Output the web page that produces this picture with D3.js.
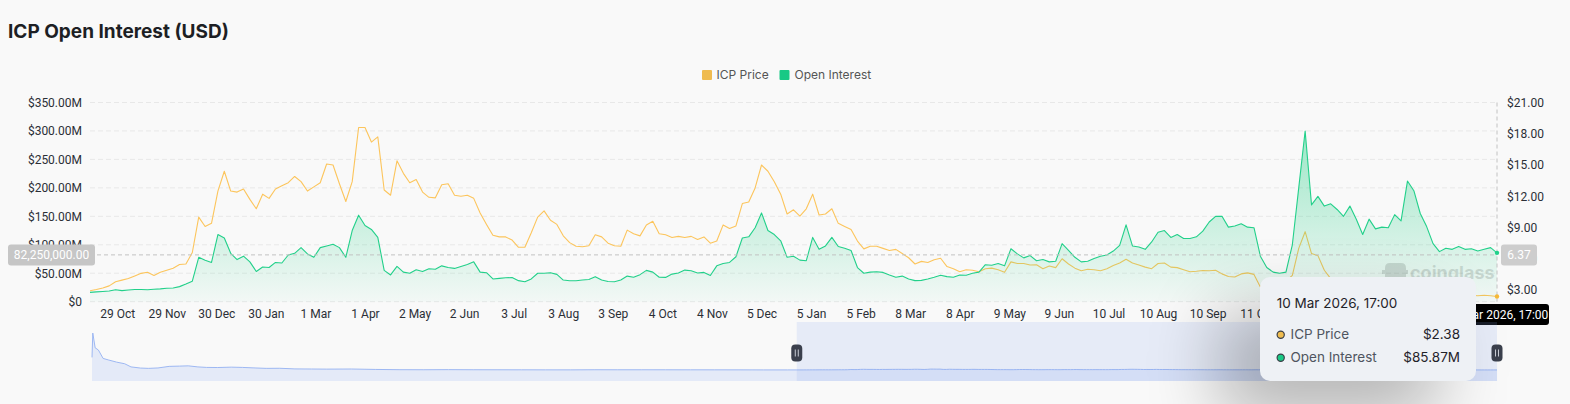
<!DOCTYPE html>
<html>
<head>
<meta charset="utf-8">
<script src="https://cdn.jsdelivr.net/npm/d3@7"></script>
<style>
  body { margin: 0; background: #f9f9f9; font-family: Inter, "Noto Sans", sans-serif; }
  #chart { position: relative; width: 1570px; height: 404px; overflow: hidden; }
  #tip {
    position: absolute; left: 1260px; top: 277px; width: 216px; height: 104px;
    background: #eef1f5; border-radius: 10px;
    box-shadow: -40px 35px 70px rgba(0, 0, 0, 0.28);
  }
</style>
</head>
<body>
<div id="chart">
  <svg id="svg" width="1570" height="404"></svg>
  <div id="tip"><svg id="tipsvg" width="216" height="104"></svg></div>
</div>
<script>
// ---- data ----
const chartTitle = "ICP Open Interest (USD)";
const seriesNames = ["ICP Price", "Open Interest"];
const lastDate = "2026-03-10T17:00:00";
const stepDays = 4; // one sample every 4 days, oldest first

const priceValues = [
  2.93, 3.05, 3.2, 3.4, 3.8, 3.95, 4.1, 4.35, 4.6, 4.7,
  4.4, 4.7, 4.9, 5.1, 5.45, 5.5, 6.6, 10.0, 9.1, 9.4,
  12.5, 14.4, 12.5, 12.4, 12.7, 11.7, 10.8, 12.2, 11.8, 12.7,
  13.0, 13.3, 13.9, 13.4, 12.5, 12.9, 13.3, 15.1, 15.0, 13.2,
  11.5, 13.4, 18.6, 18.6, 17.2, 17.7, 12.6, 12.1, 15.4, 14.2,
  13.3, 13.6, 12.4, 11.9, 11.85, 13.1, 13.2, 12.1, 12.0, 12.1,
  11.8, 10.4, 9.3, 8.25, 8.1, 8.1, 7.8, 7.1, 7.1, 8.5,
  10.0, 10.6, 9.7, 9.3, 8.2, 7.55, 7.2, 7.15, 7.25, 8.3,
  8.1, 7.5, 7.25, 7.2, 8.75, 8.4, 8.2, 9.25, 9.6, 8.4,
  8.3, 8.05, 8.15, 8.05, 8.15, 7.85, 8.1, 7.5, 7.7, 9.25,
  8.9, 9.15, 11.3, 11.45, 12.8, 15.0, 14.4, 13.4, 12.2, 10.3,
  10.7, 10.1, 10.8, 12.2, 10.2, 10.3, 10.8, 9.4, 9.1, 8.8,
  7.7, 6.95, 7.2, 7.2, 7.0, 6.8, 6.9, 6.5, 6.1, 5.5,
  5.75, 5.65, 5.9, 6.05, 5.25, 5.05, 4.75, 4.95, 4.9, 4.75,
  5.05, 5.1, 4.95, 4.7, 5.7, 5.55, 5.55, 5.4, 5.42, 5.05,
  5.3, 5.15, 6.0, 5.5, 5.1, 4.85, 5.0, 4.95, 4.85, 5.05,
  5.35, 5.6, 5.95, 5.6, 5.4, 5.2, 5.05, 5.55, 5.6, 5.2,
  5.15, 4.95, 4.75, 4.8, 4.88, 4.85, 4.9, 4.55, 4.3, 4.25,
  4.55, 4.65, 4.5, 3.3, 4.0, 3.9, 3.75, 3.85, 4.4, 7.0,
  8.6, 6.5, 6.3, 4.9, 4.1, 3.95, 3.8, 3.7, 3.6, 3.5,
  3.45, 3.4, 3.35, 3.3, 3.25, 3.2, 3.2, 3.1, 3.0, 2.95,
  2.85, 2.75, 2.7, 2.65, 2.6, 2.55, 2.5, 2.45, 2.5, 2.45,
  2.38
];

// open interest in millions of USD
const oiValues = [
  16.4, 17.2, 18, 18.7, 21, 19.5, 20.5, 21.5, 21.5, 21,
  22, 22.5, 23.5, 24, 26.5, 31, 36, 78, 73, 69,
  118, 112, 85, 74, 80, 70, 53, 61, 60, 69,
  68, 82, 85, 95, 84, 78, 95, 98, 101, 95,
  78, 125, 152, 134, 127, 113, 55, 47, 62, 52,
  50, 56, 53, 58, 57, 63, 60, 58.5, 62, 65.5,
  70, 52, 51, 40, 41, 42, 42.5, 37, 35, 40,
  50, 50, 51, 48, 38, 36.8, 36.8, 38, 39, 44,
  38, 35.5, 35, 38, 45, 43, 47.5, 55, 52, 43,
  42.7, 48.5, 50.3, 55.5, 54.5, 50.5, 51.5, 46, 63, 67,
  69, 79, 112, 114, 130, 156, 125, 118, 107, 78,
  80, 73, 72, 113, 92, 98, 113, 97, 94, 90,
  60, 50, 52, 52.5, 51.5, 47, 43, 45, 40, 37,
  37.5, 39.8, 43, 46.5, 44, 43, 47, 46.5, 50, 52,
  65, 64, 67, 63, 93, 84, 77, 81, 72, 74,
  70, 71, 102, 90, 78, 70, 71, 76, 80, 82,
  89, 99, 135, 98, 96, 92, 105, 122, 125, 113,
  118, 111, 111, 114, 124, 140, 150, 150, 131, 133,
  137, 131, 130, 80, 60, 52, 50, 52, 100, 200,
  300, 170, 185, 168, 172, 162, 150, 168, 145, 118,
  145, 128, 131, 130, 153, 142, 212, 195, 155, 132,
  102, 88, 94, 92, 97, 92, 93, 89, 92, 95,
  85.87
];

const leftTicks = [0, 50, 100, 150, 200, 250, 300, 350];
const rightTicks = [3, 6, 9, 12, 15, 18, 21];
const priceDomain = [1.88, 21];
const xTickDates = [
  "2023-10-29", "2023-11-29", "2023-12-30", "2024-01-30", "2024-03-01", "2024-04-01",
  "2024-05-02", "2024-06-02", "2024-07-03", "2024-08-03", "2024-09-03", "2024-10-04",
  "2024-11-04", "2024-12-05", "2025-01-05", "2025-02-05", "2025-03-08", "2025-04-08",
  "2025-05-09", "2025-06-09", "2025-07-10", "2025-08-10", "2025-09-10", "2025-10-11",
  "2025-11-11", "2025-12-12", "2026-01-12", "2026-02-12"
];

// full history of price for the zoom slider, before the visible window
const shadowDates = [
  "2021-05-10", "2021-05-11", "2021-05-14", "2021-05-18", "2021-05-24", "2021-05-31",
  "2021-06-10", "2021-06-20", "2021-06-28", "2021-07-10", "2021-07-20", "2021-08-01",
  "2021-08-15", "2021-08-28", "2021-09-08", "2021-09-20", "2021-10-01", "2021-10-15",
  "2021-11-01", "2021-11-15", "2021-12-01", "2021-12-15", "2022-01-01", "2022-01-20",
  "2022-02-10", "2022-03-01", "2022-04-01", "2022-05-01", "2022-06-01", "2022-07-01",
  "2022-08-01", "2022-09-01", "2022-10-01", "2022-11-01", "2022-12-01", "2023-01-01",
  "2023-02-01", "2023-03-01", "2023-04-01", "2023-05-01", "2023-06-01", "2023-07-01",
  "2023-08-01", "2023-09-01", "2023-10-01"
];
const shadowPrices = [
  240, 700, 420, 380, 220, 190,
  150, 120, 60, 38, 32, 40,
  70, 75, 80, 60, 50, 48,
  55, 50, 40, 32, 34, 22,
  20, 18, 20, 12, 7, 6,
  8, 6, 5.5, 5, 4, 3.8,
  6, 5.5, 5.5, 5.2, 4.5, 4.2,
  4.0, 3.2, 3.0
];
const windowStart = "2023-10-12T17:00:00";

const hoverLabel = "10 Mar 2026, 17:00";
const hoverPrice = 2.38;
const hoverOI = 85.87;
const pointerOI = 82.25;      // horizontal crosshair level, in millions
const pointerPrice = 6.37;

// ---- layout ----
const plot = { left: 90, right: 1497, top: 102.5, bottom: 301.7 };
const colors = { price: "#fcc55c", priceLegend: "#efbb4f", oi: "#22d08a", oiLegend: "#18c985" };

const end = new Date(lastDate);
const dates = priceValues.map((_, i) => d3.timeDay.offset(end, -(priceValues.length - 1 - i) * stepDays));
const rows = dates.map((d, i) => ({ date: d, price: priceValues[i], oi: oiValues[i] }));

const svg = d3.select('#svg');

const x = d3.scaleTime().domain([dates[0], dates[dates.length - 1]]).range([plot.left, plot.right]);
const yOI = d3.scaleLinear().domain([0, 350]).range([plot.bottom, plot.top]);
const yPrice = d3.scaleLinear().domain(priceDomain).range([plot.bottom, plot.top]);

// title
svg.append('text')
  .text(chartTitle)
  .attr('x', 8).attr('y', 37.5)
  .attr('font-size', 19).attr('font-weight', 700)
  .attr('fill', '#1d1f24');

// legend
const legend = svg.append('g').attr('font-size', 12).attr('fill', '#555');
[[seriesNames[0], colors.priceLegend, 702, 716.5], [seriesNames[1], colors.oiLegend, 779.5, 794.5]].forEach(([name, c, rx, tx]) => {
  legend.append('rect').attr('x', rx).attr('y', 70).attr('width', 10).attr('height', 10).attr('rx', 1).attr('fill', c);
  legend.append('text').text(name).attr('x', tx).attr('y', 79.3);
});

// grid lines
svg.append('g')
  .selectAll('line')
  .data(leftTicks)
  .join('line')
  .attr('x1', plot.left).attr('x2', plot.right)
  .attr('y1', d => yOI(d)).attr('y2', d => yOI(d))
  .attr('stroke', '#e8e8e8').attr('stroke-dasharray', '5,3');

// axes
const axisText = g => {
  g.select('.domain').remove();
  g.selectAll('text').attr('font-size', 12).attr('fill', '#2b2f36').attr('font-family', 'Roboto, Inter, sans-serif');
};
svg.append('g')
  .attr('transform', `translate(${plot.left},0)`)
  .call(d3.axisLeft(yOI).tickValues(leftTicks).tickSize(0).tickPadding(8)
    .tickFormat(d => d === 0 ? '$0' : `$${d3.format('.2f')(d)}M`))
  .call(axisText);

svg.append('g')
  .attr('transform', `translate(${plot.right},0)`)
  .call(d3.axisRight(yPrice).tickValues(rightTicks).tickSize(0).tickPadding(10)
    .tickFormat(d => `$${d3.format('.2f')(d)}`))
  .call(axisText);

svg.append('g')
  .attr('transform', `translate(0,${plot.bottom})`)
  .call(d3.axisBottom(x).tickValues(xTickDates.map(s => new Date(s + 'T17:00:00'))).tickSize(0).tickPadding(8)
    .tickFormat(d3.timeFormat('%-d %b')))
  .call(axisText);

// watermark
const wm = svg.append('g').attr('opacity', 0.13);
wm.append('path')
  .attr('d', 'M1385,268 q0,-5 5,-5 h11 q5,0 5,5 v9 q0,5 -5,5 h-11 q-5,0 -5,-5 z M1382,270 h26 v4 h-26 z')
  .attr('fill', '#000');
wm.append('text').text('coinglass')
  .attr('x', 1410).attr('y', 278.5)
  .attr('font-size', 18).attr('font-weight', 700).attr('fill', '#000');

// price line (drawn under the open interest area)
svg.append('path')
  .datum(rows)
  .attr('fill', 'none')
  .attr('stroke', colors.price)
  .attr('stroke-width', 1.1)
  .attr('stroke-linejoin', 'round')
  .attr('d', d3.line().x(d => x(d.date)).y(d => yPrice(d.price)));

// open interest area + line
const defs = svg.append('defs');
const grad = defs.append('linearGradient').attr('id', 'oiFill').attr('x1', 0).attr('y1', 0).attr('x2', 0).attr('y2', 1);
grad.append('stop').attr('offset', 0).attr('stop-color', '#1ecd82').attr('stop-opacity', 0.42);
grad.append('stop').attr('offset', 1).attr('stop-color', '#1ecd82').attr('stop-opacity', 0.03);

svg.append('path')
  .datum(rows)
  .attr('fill', 'url(#oiFill)')
  .attr('d', d3.area().x(d => x(d.date)).y0(yOI(0)).y1(d => yOI(d.oi)));

svg.append('path')
  .datum(rows)
  .attr('fill', 'none')
  .attr('stroke', colors.oi)
  .attr('stroke-width', 1.1)
  .attr('stroke-linejoin', 'round')
  .attr('d', d3.line().x(d => x(d.date)).y(d => yOI(d.oi)));

// crosshair
const px = x(end);
const py = yOI(pointerOI);
svg.append('line')
  .attr('x1', plot.left).attr('x2', plot.right).attr('y1', py).attr('y2', py)
  .attr('stroke', '#c2c2c2').attr('stroke-dasharray', '4,3');
svg.append('line')
  .attr('x1', px).attr('x2', px).attr('y1', plot.top).attr('y2', plot.bottom)
  .attr('stroke', '#c2c2c2').attr('stroke-dasharray', '4,3');

svg.append('circle').attr('cx', px).attr('cy', yPrice(hoverPrice)).attr('r', 2.2).attr('fill', '#f5b937');
svg.append('circle').attr('cx', px).attr('cy', yOI(hoverOI)).attr('r', 2.2).attr('fill', colors.oi);

// crosshair labels
const badge = (bx, by, w, h, fill, label) => {
  svg.append('rect').attr('x', bx).attr('y', by).attr('width', w).attr('height', h).attr('rx', 3).attr('fill', fill);
  svg.append('text').text(label)
    .attr('x', bx + w / 2).attr('y', by + h / 2 + 4.3)
    .attr('text-anchor', 'middle').attr('font-size', 12).attr('fill', '#fff')
    .attr('font-family', 'Roboto, Inter, sans-serif');
};
badge(8, py - 10.5, 87, 21, '#c6c6c6', d3.format(',.2f')(pointerOI * 1e6));
badge(plot.right + 4, py - 10.5, 36, 21, '#cdcdcd', pointerPrice.toFixed(2));
badge(px - 52, 304, 104, 21, '#000', hoverLabel);

// zoom slider
const slider = { left: 92, right: 1497, top: 322, bottom: 381 };
const shadowRows = shadowDates.map((d, i) => ({ date: new Date(d + 'T00:00:00'), v: shadowPrices[i] }))
  .concat(rows.map(r => ({ date: r.date, v: r.price })));
const sx = d3.scaleTime().domain(d3.extent(shadowRows, d => d.date)).range([slider.left, slider.right]);
const ext = d3.extent(shadowRows, d => d.v);
const pad = (ext[1] - ext[0]) * 0.3;
const sy = d3.scaleLinear().domain([ext[0] - pad, ext[1] + pad]).range([slider.bottom, slider.top]);

svg.append('path')
  .datum(shadowRows)
  .attr('fill', 'rgba(143,176,247,0.2)')
  .attr('d', d3.area().x(d => sx(d.date)).y0(slider.bottom).y1(d => sy(d.v)));
svg.append('path')
  .datum(shadowRows)
  .attr('fill', 'none').attr('stroke', '#94b1f2').attr('stroke-width', 0.9)
  .attr('d', d3.line().x(d => sx(d.date)).y(d => sy(d.v)));

const wx0 = sx(new Date(windowStart));
svg.append('rect')
  .attr('x', wx0).attr('y', slider.top)
  .attr('width', slider.right - wx0).attr('height', slider.bottom - slider.top)
  .attr('fill', 'rgba(135,165,240,0.17)');

[wx0, slider.right].forEach(hx => {
  svg.append('rect').attr('x', hx - 5.5).attr('y', 344.5).attr('width', 11).attr('height', 17).attr('rx', 4)
    .attr('fill', '#3b404d');
  [-1.5, 1.5].forEach(o => svg.append('line')
    .attr('x1', hx + o).attr('x2', hx + o).attr('y1', 349.5).attr('y2', 356.5)
    .attr('stroke', '#c9ccd4').attr('stroke-width', 1));
});

// tooltip
const tip = d3.select('#tipsvg');
tip.append('text').text(hoverLabel)
  .attr('x', 16.7).attr('y', 30.5).attr('font-size', 13.5).attr('fill', '#1f2329');
[[seriesNames[0], '#f0bd4f', `$${hoverPrice.toFixed(2)}`, 62.3],
 [seriesNames[1], '#19c985', `$${hoverOI.toFixed(2)}M`, 85.3]].forEach(([name, c, val, by]) => {
  tip.append('circle').attr('cx', 20.7).attr('cy', by - 4.6).attr('r', 3.6)
    .attr('fill', c).attr('stroke', '#3a3f47').attr('stroke-width', 1.2);
  tip.append('text').text(name).attr('x', 30.5).attr('y', by).attr('font-size', 13.5).attr('fill', '#4f5560');
  tip.append('text').text(val).attr('x', 200).attr('y', by).attr('font-size', 13.5)
    .attr('text-anchor', 'end').attr('fill', '#1f2329');
});
</script>
</body>
</html>
